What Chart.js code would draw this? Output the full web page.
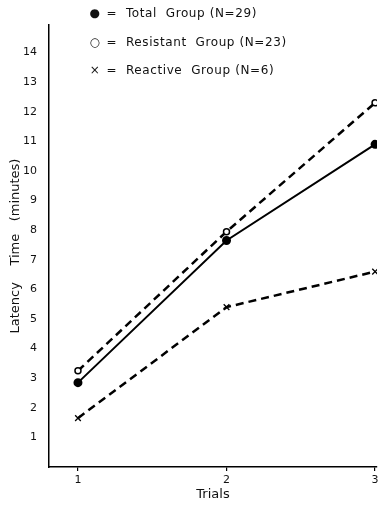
<!DOCTYPE html>
<html>
<head>
<meta charset="utf-8">
<script src="https://cdn.jsdelivr.net/npm/chart.js@4"></script>
<style>
  html, body { margin: 0; padding: 0; background: #fff; }
  #wrap { position: relative; width: 383px; height: 506px; }
  .legend { position: absolute; left: 88px; font-family: 'DejaVu Sans', sans-serif; font-size: 12px; color: #111; letter-spacing: 0.6px; white-space: nowrap; }
  .legend span.mk { display: inline-block; width: 14px; text-align: center; }
</style>
</head>
<body>
<div id="wrap">
  <canvas id="chart" width="383" height="506"></canvas>
  <div class="legend" style="top:6px"><span class="mk">●</span> =&nbsp; Total&nbsp; Group (N=29)</div>
  <div class="legend" style="top:35px"><span class="mk">○</span> =&nbsp; Resistant&nbsp; Group (N=23)</div>
  <div class="legend" style="top:63px"><span class="mk">×</span> =&nbsp; Reactive&nbsp; Group (N=6)</div>
</div>
<script>
// ===========================
// DATA
// ===========================
const trials    = [1, 2, 3];
const total     = [2.85, 7.65, 10.9];
const resistant = [3.25, 7.95, 12.3];
const reactive  = [1.65, 5.4, 6.6];
const yTicks    = [1, 2, 3, 4, 5, 6, 7, 8, 9, 10, 11, 12, 13, 14];

const pts = arr => arr.map((v, i) => ({ x: trials[i], y: v }));
const FONT = { family: "'DejaVu Sans', sans-serif", size: 11 };

new Chart(document.getElementById('chart'), {
  type: 'line',
  data: {
    datasets: [
      {
        label: 'Total Group (N=29)',
        data: pts(total),
        borderColor: '#000', borderWidth: 2,
        pointStyle: 'circle', pointRadius: 3.5,
        pointBackgroundColor: '#000', pointBorderColor: '#000'
      },
      {
        label: 'Resistant Group (N=23)',
        data: pts(resistant),
        borderColor: '#000', borderWidth: 2.5, borderDash: [8, 5],
        pointStyle: 'circle', pointRadius: 3,
        pointBackgroundColor: '#fff', pointBorderColor: '#000', pointBorderWidth: 1.5
      },
      {
        label: 'Reactive Group (N=6)',
        data: pts(reactive),
        borderColor: '#000', borderWidth: 2.5, borderDash: [8, 5],
        pointStyle: 'crossRot', pointRadius: 4,
        pointBorderColor: '#000', pointBorderWidth: 1.3
      }
    ]
  },
  options: {
    responsive: false,
    animation: false,
    layout: { padding: { top: 25, right: 5, left: 0, bottom: 0 } },
    plugins: { legend: { display: false }, tooltip: { enabled: false } },
    scales: {
      x: {
        type: 'linear', min: 0.805, max: 3.013,
        afterBuildTicks: s => { s.ticks = trials.map(v => ({ value: v })); },
        afterFit: s => { s.height = 39; },
        border: { color: '#000', width: 1.5 },
        grid: { drawOnChartArea: false, color: '#000', tickLength: 4, lineWidth: 1.2 },
        ticks: { color: '#111', font: FONT, padding: 3 },
        title: { display: true, text: 'Trials', color: '#111', font: { family: FONT.family, size: 13 }, padding: { top: 0 } }
      },
      y: {
        min: 0, max: 14.93,
        afterBuildTicks: s => { s.ticks = yTicks.map(v => ({ value: v })); },
        afterFit: s => { s.width = 49; },
        border: { color: '#000', width: 1.5 },
        grid: { display: false },
        ticks: { color: '#111', font: FONT, padding: 4 },
        title: { display: true, text: 'Latency    Time   (minutes)', color: '#111', font: { family: FONT.family, size: 13 }, padding: { top: 8, bottom: 0 } }
      }
    }
  }
});
</script>
</body>
</html>
